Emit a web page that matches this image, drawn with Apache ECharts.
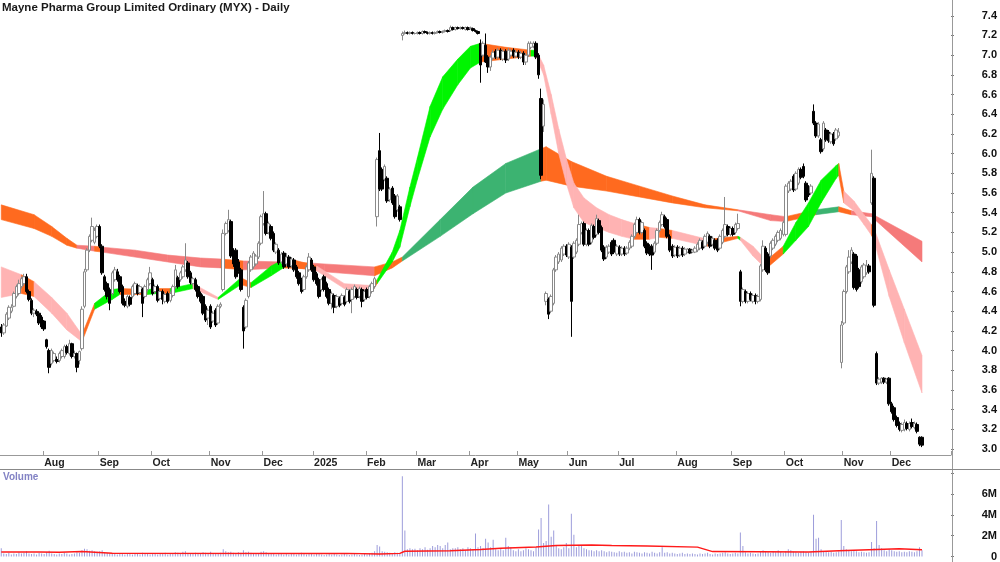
<!DOCTYPE html>
<html>
<head>
<meta charset="utf-8">
<script src="https://cdn.jsdelivr.net/npm/echarts@6/dist/echarts.min.js"></script>
<style>
  html, body { margin: 0; padding: 0; background: #fff; }
  #chart { width: 1000px; height: 562px; }
</style>
</head>
<body>
<div id="chart"></div>
<script>
// trading days on the axis (data + empty space on the right)
var dayCount = 377;
var monthIdx  = [17, 39, 60, 83, 104, 124, 145, 165, 186, 205, 225, 245, 268, 290, 311, 334, 353];
var monthText = ['Aug','Sep','Oct','Nov','Dec','2025','Feb','Mar','Apr','May','Jun','Jul','Aug','Sep','Oct','Nov','Dec'];

// daily candles [open, close, low, high]
var ohlc = [
  [4.24,4.18,4.14,4.27],[4.18,4.26,4.16,4.28],[4.25,4.37,4.24,4.39],[4.33,4.44,4.31,4.46],[4.4,4.44,4.38,4.47],[4.45,4.58,4.44,4.6],[4.55,4.65,4.53,4.67],[4.58,4.68,4.56,4.72],[4.65,4.73,4.63,4.75],[4.68,4.75,4.66,4.78],
  [4.75,4.6,4.58,4.78],[4.6,4.52,4.5,4.62],[4.51,4.38,4.36,4.53],[4.38,4.41,4.34,4.43],[4.4,4.37,4.35,4.42],[4.38,4.28,4.26,4.4],[4.34,4.24,4.22,4.36],[4.3,4.22,4.2,4.31],[4.11,4.04,4.02,4.12],[4.0,3.83,3.77,4.02],
  [3.87,4.0,3.85,4.02],[3.9,3.97,3.88,3.99],[3.91,3.89,3.87,3.94],[3.9,3.97,3.88,3.99],[3.94,4.0,3.92,4.02],[3.94,4.04,3.92,4.06],[4.04,3.98,3.96,4.06],[3.97,4.07,3.95,4.11],[4.07,3.94,3.92,4.08],[3.94,3.97,3.92,4.0],
  [3.97,3.83,3.78,3.98],[3.9,3.99,3.86,4.0],[4.02,4.42,4.0,4.45],[4.45,4.8,4.43,4.83],[4.82,5.02,4.8,5.04],[5.02,5.16,5.0,5.18],[5.12,5.26,5.1,5.35],[5.1,5.22,5.08,5.25],[5.16,5.26,5.14,5.28],[5.26,5.06,5.04,5.28],
  [5.06,4.79,4.77,5.08],[4.75,4.62,4.6,4.77],[4.68,4.55,4.52,4.7],[4.62,4.48,4.41,4.64],[4.58,4.79,4.56,4.81],[4.72,4.82,4.7,4.85],[4.8,4.72,4.7,4.83],[4.75,4.6,4.58,4.77],[4.65,4.48,4.46,4.67],[4.5,4.46,4.44,4.53],
  [4.45,4.55,4.43,4.57],[4.54,4.47,4.45,4.56],[4.55,4.65,4.53,4.67],[4.58,4.68,4.56,4.7],[4.66,4.58,4.56,4.68],[4.59,4.65,4.57,4.67],[4.62,4.48,4.34,4.64],[4.55,4.65,4.53,4.67],[4.62,4.72,4.6,4.74],[4.68,4.79,4.66,4.85],
  [4.72,4.58,4.56,4.74],[4.6,4.65,4.58,4.67],[4.65,4.51,4.49,4.67],[4.53,4.6,4.51,4.62],[4.6,4.52,4.47,4.62],[4.5,4.57,4.48,4.59],[4.58,4.5,4.48,4.6],[4.51,4.58,4.49,4.6],[4.56,4.65,4.54,4.67],[4.65,4.82,4.63,4.87],
  [4.74,4.65,4.63,4.76],[4.72,4.79,4.7,4.81],[4.75,4.85,4.73,4.87],[4.82,4.92,4.8,5.09],[4.89,4.75,4.73,4.91],[4.79,4.69,4.67,4.81],[4.68,4.73,4.66,4.75],[4.72,4.62,4.6,4.74],[4.65,4.55,4.53,4.67],[4.58,4.5,4.48,4.6],
  [4.55,4.38,4.36,4.57],[4.45,4.31,4.29,4.47],[4.33,4.41,4.26,4.43],[4.45,4.24,4.22,4.47],[4.3,4.38,4.28,4.4],[4.41,4.26,4.24,4.43],[4.28,4.45,4.26,4.47],[4.45,4.47,4.43,4.49],[4.62,5.19,4.6,5.23],[5.19,5.29,5.17,5.31],
  [5.22,5.33,5.2,5.43],[5.31,4.96,4.94,5.33],[5.0,4.88,4.85,5.04],[5.02,4.75,4.73,5.04],[4.9,4.8,4.78,4.93],[4.82,4.62,4.6,4.84],[4.44,4.2,4.02,4.46],[4.24,4.51,4.22,4.53],[4.55,4.89,4.53,4.91],[4.82,4.95,4.8,4.97],
  [4.85,4.99,4.83,5.01],[4.88,4.96,4.86,4.98],[4.95,5.09,4.93,5.11],[5.09,5.36,5.07,5.38],[5.29,5.39,5.27,5.62],[5.39,5.19,5.17,5.41],[5.2,5.29,5.18,5.31],[5.26,5.14,5.12,5.28],[5.19,5.02,5.0,5.21],[5.0,5.08,4.98,5.1],
  [5.02,4.89,4.87,5.04],[4.9,4.98,4.88,5.0],[4.99,4.85,4.83,5.01],[4.88,4.95,4.86,4.99],[4.95,4.85,4.83,4.97],[4.86,4.93,4.84,4.95],[4.92,4.82,4.8,4.94],[4.85,4.75,4.73,4.87],[4.79,4.68,4.66,4.81],[4.72,4.6,4.58,4.74],
  [4.62,4.75,4.6,4.77],[4.75,4.85,4.73,4.87],[4.82,4.95,4.8,4.99],[4.92,4.82,4.8,4.94],[4.85,4.72,4.7,4.87],[4.78,4.68,4.66,4.8],[4.72,4.55,4.53,4.74],[4.62,4.72,4.6,4.74],[4.75,4.62,4.6,4.77],[4.68,4.55,4.53,4.7],
  [4.62,4.48,4.46,4.64],[4.48,4.58,4.42,4.6],[4.56,4.44,4.38,4.58],[4.45,4.55,4.43,4.57],[4.53,4.46,4.44,4.55],[4.48,4.56,4.46,4.58],[4.54,4.47,4.45,4.56],[4.5,4.62,4.48,4.64],[4.6,4.5,4.48,4.62],[4.52,4.62,4.38,4.64],
  [4.55,4.65,4.53,4.67],[4.62,4.54,4.52,4.64],[4.55,4.63,4.53,4.65],[4.62,4.5,4.44,4.64],[4.52,4.6,4.5,4.62],[4.62,4.54,4.52,4.64],[4.55,4.65,4.53,4.67],[4.6,4.68,4.58,4.7],[4.65,4.73,4.63,4.75],[5.36,5.94,5.26,5.96],
  [6.03,5.64,5.62,6.21],[5.84,5.64,5.62,5.86],[5.74,5.87,5.72,5.89],[5.75,5.52,5.5,5.77],[5.53,5.64,5.51,5.66],[5.65,5.5,5.48,5.67],[5.57,5.36,5.34,5.59],[5.43,5.57,5.41,5.59],[5.46,5.33,5.31,5.48],[7.2,7.22,7.15,7.24],
  [7.22,7.23,7.21,7.25],[7.23,7.22,7.21,7.24],[7.22,7.23,7.21,7.24],[7.23,7.22,7.21,7.24],[7.22,7.22,7.21,7.23],[7.22,7.23,7.21,7.24],[7.23,7.22,7.21,7.24],[7.22,7.24,7.21,7.25],[7.24,7.23,7.22,7.25],[7.23,7.22,7.21,7.24],
  [7.22,7.23,7.21,7.24],[7.23,7.22,7.21,7.24],[7.22,7.23,7.21,7.24],[7.23,7.24,7.22,7.25],[7.24,7.23,7.22,7.25],[7.23,7.24,7.22,7.25],[7.24,7.25,7.23,7.26],[7.25,7.24,7.23,7.26],[7.25,7.28,7.24,7.3],[7.28,7.26,7.25,7.29],
  [7.26,7.28,7.25,7.29],[7.28,7.27,7.26,7.29],[7.27,7.28,7.26,7.29],[7.28,7.27,7.26,7.29],[7.26,7.28,7.25,7.29],[7.28,7.26,7.25,7.29],[7.27,7.28,7.26,7.29],[7.27,7.25,7.24,7.28],[7.25,7.24,7.23,7.26],[7.24,7.22,7.21,7.25],
  [7.12,6.9,6.72,7.16],[7.0,7.12,6.98,7.14],[7.1,6.93,6.92,7.22],[6.98,6.88,6.82,7.0],[6.88,6.98,6.84,7.0],[6.97,7.03,6.95,7.05],[7.04,6.98,6.96,7.06],[6.98,7.05,6.96,7.07],[7.05,6.97,6.95,7.07],[6.96,7.04,6.94,7.06],
  [7.04,6.95,6.92,7.06],[6.96,7.05,6.94,7.07],[7.0,7.04,6.98,7.06],[7.05,6.99,6.97,7.07],[6.99,7.03,6.97,7.05],[7.03,6.98,6.96,7.05],[6.98,7.02,6.96,7.04],[7.02,6.93,6.9,7.04],[6.93,7.0,6.9,7.02],[7.0,7.12,6.98,7.14],
  [7.08,7.12,7.06,7.14],[7.09,7.12,7.07,7.14],[7.12,6.98,6.96,7.14],[7.0,6.8,6.76,7.02],[6.56,5.78,5.74,6.66],[6.28,6.5,6.22,6.55],[4.5,4.58,4.46,4.6],[4.52,4.37,4.32,4.54],[4.4,4.55,4.38,4.57],[4.48,4.82,4.46,4.84],
  [4.82,4.95,4.8,4.97],[4.9,4.98,4.88,5.0],[4.92,5.04,4.9,5.06],[4.98,5.06,4.96,5.08],[5.06,4.97,4.95,5.08],[4.95,5.08,4.93,5.1],[5.05,4.5,4.14,5.07],[4.95,5.09,4.93,5.11],[5.0,5.12,4.98,5.14],[5.08,5.28,5.06,5.38],
  [5.2,5.29,5.18,5.31],[5.29,5.08,5.06,5.31],[5.08,5.22,5.06,5.24],[5.22,5.08,5.06,5.24],[5.1,5.27,5.08,5.29],[5.26,5.15,5.13,5.28],[5.18,5.34,5.16,5.38],[5.32,5.2,5.18,5.34],[5.25,5.02,5.0,5.27],[5.05,4.93,4.91,5.07],
  [4.95,5.05,4.93,5.07],[5.0,5.06,4.98,5.08],[5.1,4.98,4.96,5.12],[5.12,5.0,4.98,5.14],[4.98,5.06,4.96,5.08],[5.05,4.98,4.96,5.07],[4.98,5.04,4.96,5.06],[5.04,4.98,4.96,5.06],[4.99,5.04,4.97,5.06],[5.04,5.1,5.02,5.12],
  [5.06,5.16,5.04,5.18],[5.16,5.28,5.14,5.3],[5.2,5.33,5.18,5.36],[5.33,5.2,5.18,5.35],[5.2,5.3,5.18,5.32],[5.22,5.06,5.04,5.24],[5.09,4.99,4.97,5.11],[5.06,4.98,4.96,5.08],[5.06,4.97,4.82,5.08],[5.0,5.09,4.98,5.11],
  [5.09,5.22,5.07,5.24],[5.22,5.3,5.2,5.32],[5.28,5.38,5.26,5.41],[5.36,5.26,5.24,5.38],[5.33,5.16,5.14,5.35],[5.16,5.02,5.0,5.18],[5.06,4.96,4.94,5.08],[4.97,5.05,4.95,5.07],[5.05,4.96,4.94,5.07],[4.97,5.04,4.95,5.06],
  [5.04,4.97,4.95,5.06],[4.98,5.03,4.96,5.05],[5.0,5.03,4.99,5.04],[5.03,4.99,4.98,5.04],[5.0,5.02,4.99,5.03],[5.0,5.04,4.99,5.06],[5.02,5.08,5.0,5.1],[5.04,5.12,5.02,5.14],[5.1,5.04,5.02,5.12],[5.06,5.16,5.04,5.18],
  [5.1,5.19,5.08,5.21],[5.16,5.06,5.04,5.18],[5.08,5.14,5.06,5.16],[5.12,5.04,5.02,5.14],[5.12,5.02,5.0,5.14],[5.04,5.16,5.02,5.18],[5.1,5.22,5.08,5.24],[5.16,5.28,5.14,5.56],[5.26,5.18,5.16,5.28],[5.18,5.24,5.16,5.26],
  [5.24,5.18,5.16,5.26],[5.2,5.28,5.18,5.3],[5.24,5.29,5.22,5.39],[4.8,4.5,4.45,4.82],[4.5,4.62,4.48,4.64],[4.6,4.5,4.48,4.62],[4.5,4.58,4.48,4.6],[4.58,4.52,4.5,4.6],[4.5,4.56,4.48,4.58],[4.56,4.5,4.47,4.58],
  [4.5,4.55,4.48,4.57],[4.52,4.86,4.5,4.88],[4.82,5.06,4.8,5.12],[5.04,4.82,4.8,5.06],[4.98,4.79,4.77,5.0],[4.96,5.09,4.94,5.11],[5.04,5.12,5.02,5.14],[5.08,5.16,5.06,5.18],[5.12,5.2,5.1,5.22],[5.14,5.22,5.12,5.24],
  [5.18,5.3,5.16,5.32],[5.18,5.67,5.16,5.69],[5.62,5.7,5.6,5.72],[5.64,5.72,5.62,5.74],[5.77,5.63,5.61,5.79],[5.64,5.8,5.62,5.82],[5.7,5.84,5.68,5.86],[5.84,5.76,5.74,5.86],[5.87,5.77,5.75,5.9],[5.7,5.53,5.51,5.72],
  [5.66,5.58,5.56,5.68],[5.6,5.67,5.58,5.69],[6.43,6.31,6.29,6.5],[6.31,6.18,6.16,6.33],[6.18,6.3,6.16,6.32],[6.14,6.02,6.0,6.16],[6.05,6.31,6.03,6.33],[6.24,6.14,6.12,6.26],[6.22,6.13,6.11,6.24],[6.12,6.2,6.1,6.22],
  [6.2,6.1,6.08,6.22],[6.15,6.24,6.13,6.26],[6.18,6.22,6.16,6.26],[3.88,4.26,3.82,4.3],[4.28,4.6,4.26,4.62],[4.6,4.85,4.58,4.87],[4.8,4.95,4.78,5.02],[4.9,5.02,4.88,5.05],[4.98,4.64,4.62,5.0],[4.96,4.62,4.6,4.98],
  [4.82,4.65,4.63,4.84],[4.7,4.85,4.68,4.87],[4.75,4.87,4.73,4.89],[4.79,4.86,4.77,4.92],[4.86,4.8,4.78,4.88],[5.5,5.8,5.48,6.04],[5.75,4.46,4.44,5.77],[3.97,3.67,3.65,3.99],[3.67,3.71,3.65,3.73],[3.68,3.72,3.66,3.73],
  [3.72,3.68,3.66,3.73],[3.68,3.71,3.66,3.72],[3.72,3.46,3.44,3.73],[3.46,3.38,3.36,3.48],[3.42,3.3,3.28,3.44],[3.32,3.24,3.22,3.34],[3.26,3.2,3.18,3.28],[3.19,3.25,3.17,3.27],[3.2,3.27,3.18,3.3],[3.26,3.21,3.19,3.28],
  [3.2,3.26,3.18,3.28],[3.27,3.23,3.21,3.31],[3.22,3.26,3.2,3.28],[3.25,3.18,3.16,3.27],[3.12,3.05,3.03,3.13],[3.12,3.04,3.02,3.13]
];

// daily volume, millions
var volume = [
  0.8,0.3,0.25,0.35,0.2,0.3,0.25,0.4,0.3,0.35,
  0.5,0.3,0.25,0.3,0.2,0.35,0.3,0.25,0.4,0.55,
  0.3,0.25,0.2,0.3,0.25,0.35,0.3,0.2,0.25,0.3,
  0.4,0.35,0.6,0.75,0.7,0.55,0.6,0.5,0.45,0.5,
  0.6,0.4,0.35,0.3,0.3,0.25,0.2,0.3,0.25,0.2,
  0.3,0.25,0.2,0.25,0.3,0.2,0.35,0.25,0.3,0.2,
  0.25,0.3,0.2,0.25,0.3,0.35,0.2,0.25,0.3,0.4,
  0.35,0.3,0.45,0.5,0.3,0.25,0.3,0.35,0.3,0.25,
  0.4,0.35,0.3,0.45,0.3,0.25,0.3,0.35,0.7,0.5,
  0.4,0.45,0.35,0.3,0.4,0.35,0.6,0.4,0.45,0.35,
  0.3,0.25,0.3,0.45,0.5,0.4,0.3,0.25,0.3,0.2,
  0.25,0.3,0.2,0.25,0.2,0.3,0.25,0.2,0.3,0.35,
  0.25,0.2,0.3,0.25,0.2,0.25,0.3,0.2,0.15,0.2,
  0.25,0.2,0.3,0.2,0.15,0.2,0.25,0.2,0.15,0.2,
  0.25,0.2,0.15,0.2,0.25,0.2,0.3,0.35,0.5,1.1,
  0.95,0.5,0.45,0.4,0.35,0.3,0.4,0.35,0.3,7.7,
  2.5,0.7,0.8,0.7,0.75,0.6,0.8,0.7,0.9,0.65,
  0.8,1.0,0.9,1.1,1.0,0.8,1.1,1.35,0.7,0.8,
  0.8,0.9,0.7,0.8,0.6,0.9,0.8,0.7,2.2,0.9,
  1.0,0.8,1.7,1.35,0.9,1.6,0.7,0.6,0.8,0.6,
  1.8,1.0,0.9,0.6,0.5,0.7,0.5,0.6,0.8,0.7,
  0.6,0.5,0.9,2.6,3.7,1.3,1.5,5.0,1.9,2.5,
  1.1,0.8,0.7,0.9,1.3,0.8,4.1,2.1,0.9,1.0,
  1.0,0.8,0.7,0.6,0.6,0.5,0.6,0.5,0.6,0.5,
  0.4,0.5,0.45,0.4,0.35,0.5,0.4,0.45,0.35,0.4,
  0.3,0.45,0.4,0.35,0.3,0.4,0.35,0.3,0.45,0.35,
  0.3,0.4,0.9,0.35,0.4,0.3,0.35,0.3,0.25,0.3,
  0.35,0.25,0.3,0.25,0.3,0.25,0.2,0.3,0.25,0.3,
  0.35,0.25,0.2,0.3,0.25,0.3,0.35,0.4,0.3,0.25,
  0.3,0.35,0.3,2.3,1.0,0.4,0.3,0.35,0.3,0.25,
  0.3,0.5,0.6,0.45,0.4,0.35,0.5,0.4,0.6,0.45,
  0.35,0.5,0.7,0.6,0.45,0.4,0.35,0.45,0.5,0.4,
  0.35,0.4,4.0,1.7,1.8,0.7,0.5,0.45,0.4,0.45,
  0.35,0.4,0.5,3.5,1.0,0.7,0.6,0.5,0.6,0.5,
  0.4,0.45,0.4,0.35,0.4,1.4,0.8,3.4,1.1,0.8,
  0.6,0.5,0.7,0.6,0.5,0.45,0.5,0.4,0.45,0.4,
  0.5,0.45,0.4,0.5,0.9,0.6
];

// volume average line, read at turning points
var volMaIdx = [0, 15, 23, 32, 44, 137, 150, 158, 160, 178, 190, 198, 212, 220, 234, 242, 256, 276, 282, 320, 332, 347, 356, 365];
var volMa    = [0.44,0.44,0.4,0.47,0.32,0.3,0.25,0.3,0.5,0.55,0.68,0.8,0.92,1.06,1.1,1.05,1.0,0.9,0.47,0.44,0.56,0.68,0.75,0.65];

// short-term ribbon: edges and colour of the stretch that follows each point
var shortIdx = [0,8,13,20,26,32,37,44,47,58, 62,67,76,86,95,99,107,113,125,136, 147,149,155,158,162,165,170,175,181,186,
  190,200,210,212,215,218,221,224,227,231, 236,241,246,251,257,261,266,280,292,293, 298,302,304,310,315,320,325,331,332,334, 338,342,345,346,352,358,365];
var shortTop = [4.85,4.77,4.70,4.54,4.38,4.16,4.48,4.62,4.63,4.62, 4.63,4.63,4.68,4.54,4.74,4.69,4.86,4.94,4.86,4.68, 4.66,4.72,5.0,5.22,5.66,5.96,6.48,6.78,6.96,7.09,
  7.12,7.08,7.05,7.05,6.9,6.6,6.25,5.95,5.7,5.55, 5.45,5.38,5.33,5.29,5.25,5.24,5.22,5.13,5.16,5.15, 5.06,4.95,4.93,5.06,5.3,5.5,5.73,5.88,5.9,5.62, 5.52,5.38,5.28,5.24,4.82,4.42,3.95];
var shortBot = [4.54,4.58,4.55,4.38,4.21,4.09,4.42,4.52,4.57,4.57, 4.58,4.58,4.63,4.52,4.67,4.64,4.76,4.86,4.81,4.63, 4.6,4.68,4.9,5.05,5.46,5.74,6.17,6.45,6.7,6.87,
  6.93,6.96,6.99,6.99,6.8,6.4,6.0,5.7,5.45,5.3, 5.25,5.2,5.16,5.13,5.13,5.15,5.14,5.06,5.14,5.12, 4.96,4.86,4.85,4.98,5.12,5.26,5.5,5.75,5.78,5.5, 5.42,5.28,5.17,5.12,4.55,4.08,3.57];
var shortCol = ['p','o','p','p','p','o','g','g','o','g', 'o','g','p','g','o','g','g','o','p','p', 'o','g','g','g','g','g','g','g','g','g',
  'o','o','g','p','p','p','p','p','p','p', 'p','p','p','o','p','o','p','o','g','p', 'p','o','o','g','g','g','g','g','o','p', 'p','p','o','p','p','p','p'];

// long-term ribbon
var longIdx = [0,13,20,26,30,37,40,53,66,79, 87,96,112,122,128,148,155,159,174,187, 200,214,216,226,240,253,266,279,292,305, 311,323,332,337,345,365];
var longTop = [5.48,5.38,5.26,5.14,5.07,5.06,5.05,5.02,4.97,4.94, 4.93,4.91,4.9,4.89,4.88,4.85,4.9,4.95,5.33,5.66, 5.9,6.05,6.07,5.92,5.77,5.67,5.57,5.48,5.43,5.38, 5.36,5.43,5.46,5.42,5.39,5.11];
var longBot = [5.33,5.24,5.16,5.07,5.04,5.01,5.0,4.95,4.9,4.85, 4.84,4.82,4.84,4.83,4.8,4.76,4.84,4.91,5.16,5.39, 5.6,5.72,5.73,5.67,5.62,5.56,5.5,5.45,5.42,5.32, 5.31,5.38,5.41,5.38,5.36,4.9];
var longCol = ['o','o','o','o','r','o','r','r','r','r', 'o','r','o','r','r','o','o','G','G','G', 'G','o','o','o','o','o','o','o','r','r', 'o','G','o','r','r','r'];

var palette = { p: '#ffb3b3', g: '#00f500', o: '#ff6a1f', G: '#3cb371', r: '#f57a7a' };

var days = [];
for (var d = 0; d < dayCount; d++) days.push(String(d));
var monthAt = {};
monthIdx.forEach(function (m, k) { monthAt[m] = monthText[k]; });

function ribbon(idx, top, bot, col) {
  return {
    type: 'custom',
    xAxisIndex: 0, yAxisIndex: 0,
    z: 1, silent: true, clip: true,
    data: idx.map(function (v, k) { return [v, top[k], bot[k]]; }),
    encode: { x: 0, y: [1, 2] },
    renderItem: function (params, api) {
      var k = params.dataIndex;
      if (k >= idx.length - 1) return null;
      var fill = palette[col[k]];
      return {
        type: 'polygon',
        shape: { points: [
          api.coord([idx[k], top[k]]), api.coord([idx[k + 1], top[k + 1]]),
          api.coord([idx[k + 1], bot[k + 1]]), api.coord([idx[k], bot[k]])
        ] },
        style: { fill: fill, stroke: fill, lineWidth: 0.6 }
      };
    }
  };
}

var font = 'Liberation Sans, Arial, sans-serif';
var myChart = echarts.init(document.getElementById('chart'));
var option = {
  animation: false,
  textStyle: { fontFamily: font },
  title: [
    { text: 'Mayne Pharma Group Limited Ordinary (MYX) - Daily', left: 2, top: 2, padding: 0,
      textStyle: { fontSize: 11.5, fontWeight: 'bold', color: '#1a1a1a', fontFamily: font } },
    { text: 'Volume', left: 3, top: 472, padding: 0,
      textStyle: { fontSize: 10, fontWeight: 'bold', color: '#8282c4', fontFamily: font } }
  ],
  grid: [
    { left: 0, right: 48, top: 0, bottom: 107 },
    { left: 0, right: 48, top: 469, bottom: 3 }
  ],
  xAxis: [
    {
      type: 'category', gridIndex: 0, data: days, boundaryGap: true,
      axisLine: { lineStyle: { color: '#999', width: 1 } },
      axisTick: { show: true, inside: true, length: 4, lineStyle: { color: '#999' },
        interval: function (i) { return monthAt[i] !== undefined; } },
      axisLabel: { interval: function (i) { return monthAt[i] !== undefined; },
        formatter: function (v, i) { return monthAt[i] || ''; },
        align: 'left', margin: 3, fontSize: 10.5, fontWeight: 'bold', color: '#222', fontFamily: font },
      splitLine: { show: false }
    },
    {
      type: 'category', gridIndex: 1, data: days, boundaryGap: true,
      axisLine: { show: false }, axisTick: { show: false }, axisLabel: { show: false }, splitLine: { show: false }
    }
  ],
  yAxis: [
    {
      type: 'value', gridIndex: 0, position: 'right', min: 2.94, max: 7.56, splitNumber: 23,
      axisLine: { show: false },
      axisTick: { show: true, length: 3, lineStyle: { color: '#777' } },
      axisLabel: { margin: 46, align: 'right', fontSize: 11, fontWeight: 'bold', color: '#111', fontFamily: font,
        showMinLabel: false, showMaxLabel: false,
        formatter: function (v) { return v.toFixed(1); } },
      splitLine: { show: false }
    },
    {
      type: 'value', gridIndex: 1, position: 'right', min: 0, max: 8.4, splitNumber: 4,
      axisLine: { show: false },
      axisTick: { show: true, length: 3, lineStyle: { color: '#777' } },
      axisLabel: { margin: 46, align: 'right', fontSize: 11, fontWeight: 'bold', color: '#111', fontFamily: font,
        showMaxLabel: false,
        formatter: function (v) { return v === 0 ? '0' : (v > 7 ? '' : v + 'M'); } },
      splitLine: { show: false }
    }
  ],
  graphic: [
    { type: 'line', shape: { x1: 952.5, y1: 0, x2: 952.5, y2: 562 }, style: { stroke: '#999', lineWidth: 1 }, z: 10 },
    { type: 'line', shape: { x1: 0, y1: 469.5, x2: 1000, y2: 469.5 }, style: { stroke: '#888', lineWidth: 1 }, z: 10 }
  ],
  series: [
    ribbon(longIdx, longTop, longBot, longCol),
    ribbon(shortIdx, shortTop, shortBot, shortCol),
    {
      type: 'candlestick', xAxisIndex: 0, yAxisIndex: 0, z: 3,
      data: ohlc, barWidth: 3,
      itemStyle: { color: '#ffffff', color0: '#000000', borderColor: '#8a8a8a', borderColor0: '#000000', borderWidth: 1 }
    },
    {
      type: 'bar', xAxisIndex: 1, yAxisIndex: 1, data: volume, barWidth: 1,
      itemStyle: { color: '#9d9ddb' }
    },
    {
      type: 'line', xAxisIndex: 1, yAxisIndex: 1, z: 4,
      data: volMaIdx.map(function (v, k) { return [v, volMa[k]]; }),
      symbol: 'none', lineStyle: { color: '#ff1a1a', width: 1.5 }
    }
  ]
};
myChart.setOption(option);
</script>
</body>
</html>
